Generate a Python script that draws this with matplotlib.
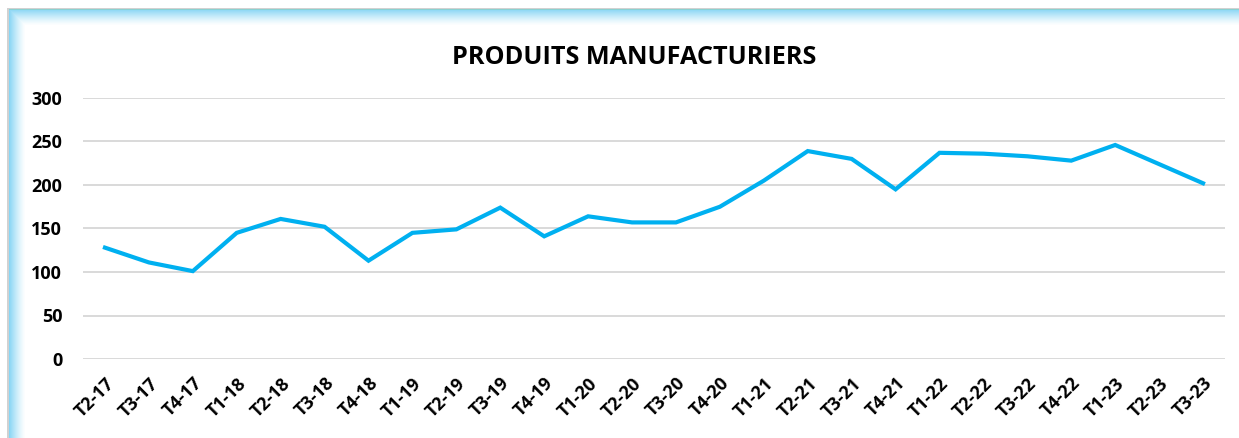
import numpy as np
import matplotlib
matplotlib.use("Agg")
import matplotlib.pyplot as plt

categories = ["T2-17", "T3-17", "T4-17",
              "T1-18", "T2-18", "T3-18", "T4-18",
              "T1-19", "T2-19", "T3-19", "T4-19",
              "T1-20", "T2-20", "T3-20", "T4-20",
              "T1-21", "T2-21", "T3-21", "T4-21",
              "T1-22", "T2-22", "T3-22", "T4-22",
              "T1-23", "T2-23", "T3-23"]
values = [128, 111, 101,
          145, 161, 152, 113,
          145, 149, 174, 141,
          164, 157, 157, 175,
          205, 239, 230, 195,
          237, 236, 233, 228,
          246, 224, 202]
yticks = [0, 50, 100, 150, 200, 250, 300]
title = "PRODUITS MANUFACTURIERS"

W, H, DPI = 1239, 438, 100
plt.rcParams['font.family'] = ['Open Sans', 'DejaVu Sans']

fig = plt.figure(figsize=(W / DPI, H / DPI), dpi=DPI)

# background frame: gray border + light-blue gradient on top/left
bg = np.ones((H, W, 3))
gray = np.array([0.82, 0.82, 0.82])
blue = np.array([0.54, 0.84, 0.96])
x0, y0, g = 9, 9, 16
bg[8:y0 + 1, 7:] = gray
bg[8:, 7:x0] = gray
for i in range(g):
    t = (1 - i / g) ** 1.3
    col = 1 - t * (1 - blue)
    r = y0 + i
    c = x0 + i
    bg[r, c:] = np.minimum(bg[r, c:], col)
    bg[r:, c] = np.minimum(bg[r:, c], col)
fig.figimage(bg, 0, 0, zorder=0)

ax = fig.add_axes([83 / W, 79 / H, (1225 - 83) / W, (359 - 98) / H])
ax.set_zorder(2)
ax.set_facecolor('none')
x = np.arange(len(categories))
ax.plot(x, values, color='#00B0F0', lw=3.0, solid_joinstyle='miter', zorder=3)
ax.set_xlim(-0.5, len(categories) - 0.5)
ax.set_ylim(0, 300)
ax.set_yticks(yticks)
ax.set_yticklabels([str(v) for v in yticks], fontsize=13, fontweight='bold')
ax.set_xticks(x)
ax.set_xticklabels(categories, rotation=45, ha='right', va='top',
                   rotation_mode='anchor', fontsize=13, fontweight='bold')
ax.grid(axis='y', color='#D9D9D9', lw=1.4)
ax.set_axisbelow(True)
for s in ax.spines.values():
    s.set_visible(False)
ax.tick_params(axis='both', length=0)
ax.tick_params(axis='y', pad=15)
ax.tick_params(axis='x', pad=11)

t = fig.text(634 / W, 1 - 57 / H, title, ha='center', va='center',
             fontsize=18.2, fontweight='bold', color='black')
t.set_zorder(3)

fig.savefig('out.png', dpi=DPI)
